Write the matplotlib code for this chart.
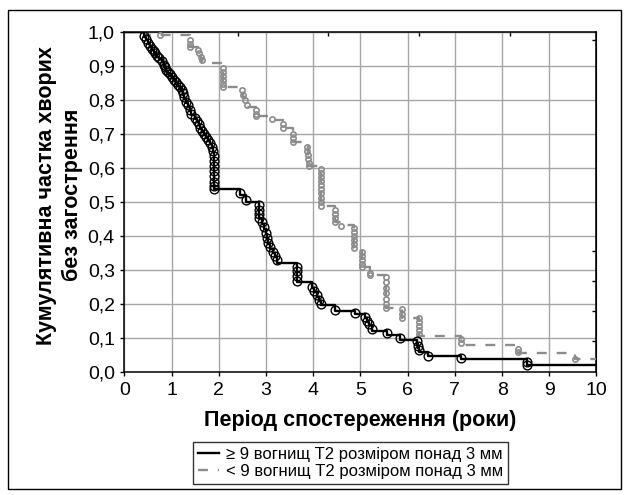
import numpy as np
import matplotlib.pyplot as plt
from matplotlib.patches import Rectangle

plt.rcParams['font.family'] = ['Liberation Sans', 'DejaVu Sans']

# ===================== дані =====================
# >= 9 вогнищ: моменти подій та частка без загострення після них
hi_t = [0.0, 0.41, 0.45, 0.49, 0.54, 0.58, 0.62, 0.65, 0.69, 0.74, 0.79, 0.83, 0.86, 0.89,
        0.93, 0.97, 1.01, 1.05, 1.09, 1.13, 1.17, 1.21, 1.24, 1.27, 1.30, 1.34, 1.38, 1.41,
        1.50, 1.53, 1.57, 1.61, 1.65, 1.69, 1.73, 1.77, 1.81, 1.85, 1.88, 1.90,
        2.45, 2.57, 2.86, 2.92, 2.96, 2.99, 3.02, 3.04, 3.08, 3.14, 3.19, 3.24, 3.65,
        3.97, 4.02, 4.08, 4.13, 4.16, 4.46, 4.88, 5.09, 5.14, 5.19, 5.24, 5.56, 5.84,
        6.19, 6.22, 6.25, 6.44, 7.12, 8.52]
hi_s = [1.0, 0.985, 0.975, 0.965, 0.957, 0.947, 0.94, 0.935, 0.925, 0.92, 0.912, 0.9, 0.893, 0.886,
        0.878, 0.872, 0.866, 0.858, 0.85, 0.842, 0.835, 0.828, 0.815, 0.803, 0.79, 0.78, 0.768, 0.757,
        0.745, 0.735, 0.725, 0.716, 0.707, 0.698, 0.69, 0.68, 0.67, 0.66, 0.648, 0.537,
        0.52, 0.50, 0.452, 0.435, 0.42, 0.405, 0.39, 0.375, 0.362, 0.35, 0.338, 0.32, 0.265,
        0.248, 0.235, 0.222, 0.208, 0.197, 0.18, 0.172, 0.16, 0.148, 0.137, 0.12, 0.11, 0.095,
        0.082, 0.07, 0.06, 0.047, 0.038, 0.02]
# цензуровані спостереження (кола)
hi_ct = [0.42, 0.45, 0.49, 0.54, 0.58, 0.62, 0.65, 0.69, 0.74, 0.79, 0.83, 0.86, 0.89, 0.93,
         0.97, 1.01, 1.05, 1.09, 1.13, 1.17, 1.21, 1.24, 1.27, 1.30, 1.34, 1.38, 1.41, 1.50,
         1.53, 1.57, 1.61, 1.65, 1.69, 1.73, 1.77, 1.81, 1.85, 1.88,
         1.90, 1.90, 1.90, 1.90, 1.90, 1.90, 1.90, 1.90,
         2.45, 2.57, 2.86, 2.86, 2.86, 2.86, 2.92, 2.96, 2.99, 3.02, 3.04, 3.08, 3.14, 3.19, 3.24,
         3.65, 3.65, 3.65, 3.65, 3.97, 4.02, 4.08, 4.13, 4.16, 4.46, 4.88, 5.09, 5.14, 5.19,
         5.24, 5.56, 5.84, 6.19, 6.22, 6.25, 6.44, 7.12, 8.52, 8.52]
hi_cs = [0.988, 0.978, 0.968, 0.96, 0.95, 0.943, 0.937, 0.928, 0.922, 0.915, 0.903, 0.896, 0.889, 0.881,
         0.875, 0.868, 0.86, 0.853, 0.845, 0.838, 0.83, 0.82, 0.808, 0.795, 0.784, 0.772, 0.76, 0.748,
         0.738, 0.728, 0.719, 0.71, 0.701, 0.692, 0.683, 0.673, 0.663, 0.651,
         0.635, 0.62, 0.605, 0.59, 0.575, 0.56, 0.547, 0.537,
         0.527, 0.505, 0.49, 0.477, 0.464, 0.452, 0.44, 0.425, 0.41, 0.395, 0.38, 0.367, 0.354, 0.342, 0.328,
         0.31, 0.296, 0.282, 0.268, 0.25, 0.238, 0.225, 0.212, 0.2, 0.183, 0.174, 0.163, 0.151, 0.14,
         0.126, 0.115, 0.099, 0.09, 0.076, 0.064, 0.048, 0.04, 0.03, 0.02]

# < 9 вогнищ
lo_t = [0.0, 0.45, 1.39, 1.55, 1.62, 1.65, 2.08, 2.48, 2.52, 2.55, 2.59, 2.79, 3.12, 3.35, 3.56,
        3.88, 4.16, 4.45, 4.58, 4.87, 5.04, 5.21, 5.55, 5.89, 6.23, 7.13, 8.34, 9.54]
lo_s = [1.0, 0.99, 0.955, 0.935, 0.92, 0.908, 0.838, 0.825, 0.81, 0.795, 0.78, 0.752, 0.742, 0.718, 0.675,
        0.607, 0.487, 0.442, 0.432, 0.364, 0.31, 0.285, 0.187, 0.158, 0.107, 0.08, 0.055, 0.037]
lo_ct = [0.76, 1.39, 1.39, 1.39, 1.55, 1.58, 1.62, 1.65,
         2.08, 2.08, 2.08, 2.08, 2.08, 2.08, 2.48, 2.52, 2.55, 2.59, 2.79, 2.79, 2.79, 3.12,
         3.35, 3.35, 3.56, 3.56, 3.56, 3.87, 3.87, 3.88, 3.88, 3.90, 3.90,
         4.16, 4.16, 4.16, 4.16, 4.16, 4.16, 4.16, 4.16, 4.16, 4.16,
         4.45, 4.45, 4.45, 4.45, 4.58, 4.87, 4.87, 4.87, 4.87, 4.87, 4.87,
         5.04, 5.04, 5.04, 5.04, 5.04, 5.21, 5.21, 5.55, 5.55, 5.55, 5.55, 5.55, 5.55, 5.55,
         5.89, 5.89, 5.89, 6.23, 6.23, 6.23, 6.23, 6.23, 7.13, 7.13, 8.34, 8.34, 9.54]
lo_cs = [0.99, 0.975, 0.966, 0.957, 0.947, 0.937, 0.927, 0.918,
         0.895, 0.883, 0.871, 0.859, 0.847, 0.838, 0.83, 0.815, 0.80, 0.785, 0.77, 0.76, 0.752, 0.744,
         0.73, 0.718, 0.70, 0.688, 0.676, 0.663, 0.651, 0.639, 0.627, 0.615, 0.607,
         0.597, 0.585, 0.573, 0.561, 0.549, 0.537, 0.525, 0.513, 0.501, 0.489,
         0.476, 0.464, 0.452, 0.442, 0.43, 0.423, 0.411, 0.399, 0.387, 0.375, 0.364,
         0.354, 0.342, 0.33, 0.318, 0.31, 0.292, 0.285, 0.28, 0.264, 0.248, 0.232, 0.216, 0.2, 0.187,
         0.185, 0.172, 0.16, 0.16, 0.148, 0.136, 0.124, 0.112, 0.097, 0.085, 0.068, 0.058, 0.037]

x_ticks = list(range(0, 11))
y_ticks = [i / 10 for i in range(0, 11)]
y_labels = ["0,0", "0,1", "0,2", "0,3", "0,4", "0,5", "0,6", "0,7", "0,8", "0,9", "1,0"]
# дрібні позначки на верхній і правій осях (як в оригіналі)
top_marks = [0.47, 2.4, 4.32, 6.24, 8.17]
right_marks = [0.976, 0.355, 0.267, 0.178, 0.09]
label_hi = "≥ 9 вогнищ Т2 розміром понад 3 мм"
label_lo = "< 9 вогнищ Т2 розміром понад 3 мм"

# ===================== малюнок =====================
fig = plt.figure(figsize=(6.3, 4.95), dpi=100)
ax = fig.add_axes([0.1976, 0.2485, 0.7492, 0.6869])

gray = "#8c8c8c"
ax.step(lo_t + [10], lo_s + [lo_s[-1]], where="post", color=gray, lw=1.7,
        linestyle=(0, (4.2, 4.2)), zorder=3, label=label_lo)
ax.plot(lo_ct, lo_cs, "o", ms=3.8, mfc="none", mec=gray, mew=1.2, zorder=3)
ax.step(hi_t + [10], hi_s + [hi_s[-1]], where="post", color="black", lw=1.7,
        zorder=4, label=label_hi)
ax.plot(hi_ct, hi_cs, "o", ms=6.3, mfc="none", mec="black", mew=1.0, zorder=4)

ax.set_xlim(0, 10)
ax.set_ylim(0, 1.0)
ax.set_xticks(x_ticks)
ax.set_yticks(y_ticks)
ax.set_yticklabels(y_labels)
ax.grid(True, color="#a6a6a6", lw=1.0)
ax.set_axisbelow(True)
ax.tick_params(labelsize=14, length=3, width=1, direction="out", pad=4)
for sp in ax.spines.values():
    sp.set_linewidth(1.1)

top = ax.secondary_xaxis("top")
top.set_xticks(top_marks)
top.tick_params(direction="in", length=3, width=1, labeltop=False)
right = ax.secondary_yaxis("right")
right.set_yticks(right_marks)
right.tick_params(direction="in", length=3, width=1, labelright=False)

ax.set_xlabel("Період спостереження (роки)", fontsize=15.5, fontweight="bold", labelpad=8)
ax.set_ylabel("Кумулятивна частка хворих\nбез загострення", fontsize=15.5,
              fontweight="bold", linespacing=1.3)
ax.yaxis.set_label_coords(-0.088, 0.52)

handles, labels = ax.get_legend_handles_labels()
leg = fig.legend(handles[::-1], labels[::-1], loc="center", bbox_to_anchor=(0.556, 0.065),
                 fontsize=12, frameon=True, fancybox=False, edgecolor="black",
                 handlelength=1.3, handletextpad=0.4, borderpad=0.3, labelspacing=0.1)
leg.get_frame().set_linewidth(1.0)

fig.patches.append(Rectangle((8 / 630, 1 - 489 / 495), 613 / 630, 479 / 495,
                             transform=fig.transFigure, fill=False, edgecolor="black", lw=1.0))

fig.savefig("out.png", dpi=100)
